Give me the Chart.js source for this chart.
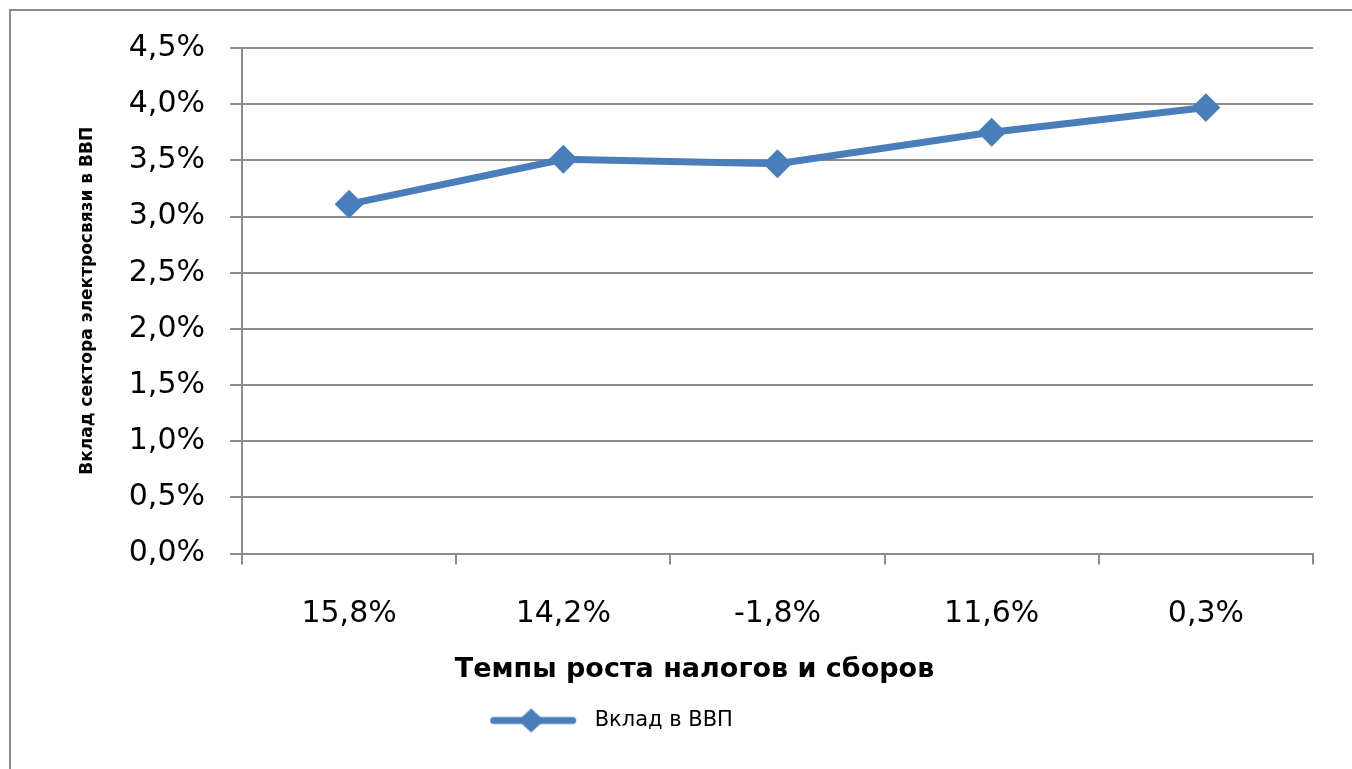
<!DOCTYPE html>
<html>
<head>
<meta charset="utf-8">
<script src="https://cdn.jsdelivr.net/npm/chart.js@4.4.0/dist/chart.umd.min.js"></script>
<style>
  html, body { margin: 0; padding: 0; background: #ffffff; }
  #wrap { width: 1352px; height: 769px; }
</style>
</head>
<body>
<div id="wrap"><canvas id="c" width="1352" height="769"></canvas></div>
<script>
const categories = ['15,8%', '14,2%', '-1,8%', '11,6%', '0,3%'];
const seriesName = 'Вклад в ВВП';
const seriesValues = [3.11, 3.51, 3.47, 3.75, 3.97];
const yTitle = 'Вклад сектора электросвязи в ВВП';
const xTitle = 'Темпы роста налогов и сборов';
const yMin = 0, yMax = 4.5, yStep = 0.5;

const BLUE = '#4A7EBB';
const GRID = '#8C8C8C';

// legend symbol: thick line with diamond marker
const sym = document.createElement('canvas');
sym.width = 100; sym.height = 28;
(function () {
  const g = sym.getContext('2d');
  g.strokeStyle = BLUE; g.lineWidth = 7; g.lineCap = 'round';
  g.beginPath(); g.moveTo(9.5, 14); g.lineTo(88.5, 14); g.stroke();
  g.fillStyle = BLUE;
  g.beginPath(); g.moveTo(47 - 13, 14); g.lineTo(47, 14 - 12); g.lineTo(47 + 13, 14); g.lineTo(47, 14 + 12); g.closePath(); g.fill();
})();

const framePlugin = {
  id: 'frame',
  beforeDraw(chart) {
    const ctx = chart.ctx;
    ctx.save();
    ctx.fillStyle = '#ffffff';
    ctx.fillRect(0, 0, chart.width, chart.height);
    ctx.strokeStyle = '#8A8A8A';
    ctx.lineWidth = 2;
    ctx.strokeRect(10, 10, chart.width + 20, chart.height + 20);
    ctx.restore();
  },
  afterLayout(chart) {
    if (chart.legend) {
      chart.legend.left -= 86;
      chart.legend.right -= 86;
    }
  }
};

new Chart(document.getElementById('c'), {
  type: 'line',
  data: {
    labels: categories,
    datasets: [{
      label: seriesName,
      data: seriesValues,
      borderColor: BLUE,
      backgroundColor: BLUE,
      borderWidth: 7,
      pointStyle: 'rectRot',
      pointRadius: 13,
      pointBorderWidth: 2,
      pointBackgroundColor: BLUE,
      pointBorderColor: BLUE,
      tension: 0,
      fill: false
    }]
  },
  options: {
    responsive: false,
    animation: false,
    events: [],
    layout: { padding: { left: 76, right: 39, top: 48, bottom: 28 } },
    plugins: {
      tooltip: { enabled: false },
      title: {
        display: true,
        text: xTitle,
        position: 'bottom',
        weight: 500,
        color: '#000000',
        font: { family: 'DejaVu Sans', size: 27, weight: 'bold' },
        padding: { top: 22, bottom: 14 }
      },
      legend: {
        display: true,
        position: 'bottom',
        weight: 1000,
        labels: {
          usePointStyle: true,
          pointStyleWidth: 100,
          color: '#000000',
          font: { family: 'DejaVu Sans', size: 21 },
          padding: 10,
          generateLabels(chart) {
            return chart.data.datasets.map((ds, i) => ({
              text: ds.label,
              pointStyle: sym,
              fillStyle: BLUE,
              strokeStyle: BLUE,
              lineWidth: 0,
              hidden: false,
              datasetIndex: i,
              fontColor: '#000000'
            }));
          }
        }
      }
    },
    scales: {
      x: {
        type: 'category',
        offset: true,
        grid: {
          display: true,
          offset: true,
          drawOnChartArea: false,
          drawTicks: true,
          tickLength: 11,
          color: GRID,
          lineWidth: 2
        },
        border: { display: true, color: GRID, width: 2 },
        ticks: {
          color: '#000000',
          font: { family: 'DejaVu Sans', size: 30 },
          padding: 32,
          maxRotation: 0
        },
        afterFit(scale) { scale.height = 78; }
      },
      y: {
        min: yMin,
        max: yMax,
        grid: {
          color: GRID,
          lineWidth: 2,
          tickLength: 12,
          drawTicks: true
        },
        border: { display: true, color: GRID, width: 2 },
        ticks: {
          stepSize: yStep,
          color: '#000000',
          font: { family: 'DejaVu Sans', size: 30 },
          padding: 25,
          callback: (v) => v.toFixed(1).replace('.', ',') + '%'
        },
        title: {
          display: true,
          text: yTitle,
          color: '#000000',
          font: { family: 'DejaVu Sans', size: 17, weight: 'bold' },
          padding: { top: 1, bottom: 0 }
        },
        afterFit(scale) { scale.width = 242 - 76; }
      }
    }
  },
  plugins: [framePlugin]
});
</script>
</body>
</html>
